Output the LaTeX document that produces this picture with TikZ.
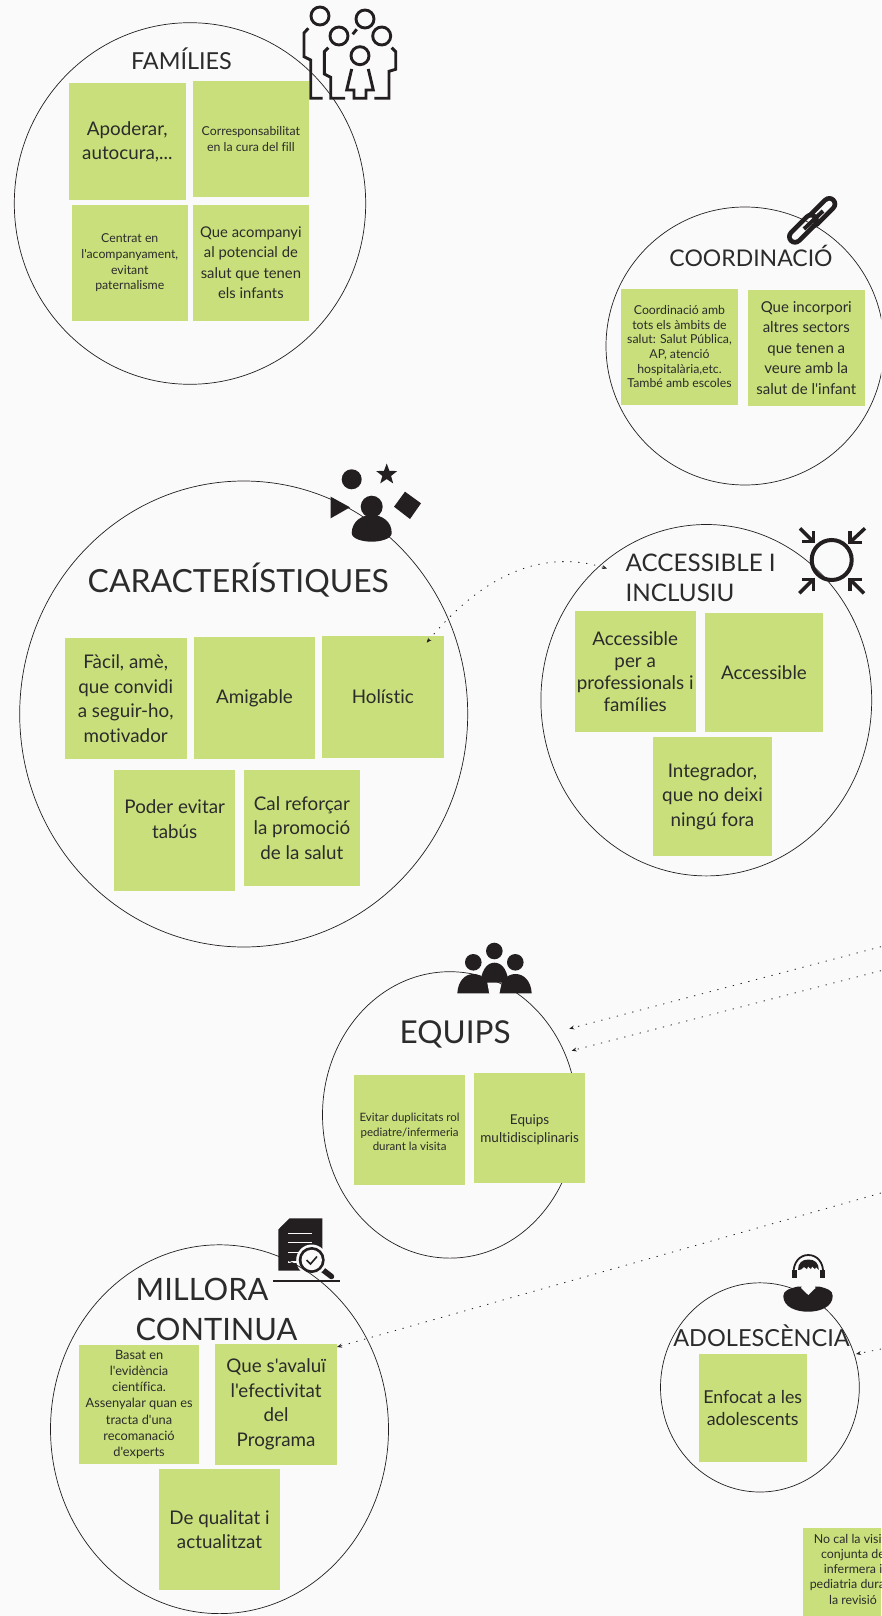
\documentclass[tikz,border=0pt]{standalone}
\usepackage{fontspec}
\setmainfont{Lato}[Ligatures={TeXOff,NoCommon}]
\usetikzlibrary{arrows.meta,shapes.geometric}
\definecolor{bgc}{HTML}{FAFAFA}
\definecolor{notec}{HTML}{C9DF7B}
\definecolor{ink}{HTML}{231F20}
\definecolor{txt}{HTML}{2B2B2B}
\newcommand{\fs}[2]{\fontsize{#1}{#2}\selectfont}
\tikzset{
  x=1pt,y=-1pt,
  note/.style={fill=notec,draw=none,inner sep=0pt,align=center,text=txt,minimum width=116.4pt,minimum height=116.4pt},
  notetext/.style={inner sep=0pt,align=center,text=txt},
  big/.style={font=\fs{18.8}{24.6}},
  mid/.style={font=\fs{15}{20.6}},
  small/.style={font=\fs{12.3}{15.6}},
  head/.style={inner sep=0pt,text=txt,align=left,font=\fs{23.4}{30}},
  ring/.style={draw=ink,line width=0.7pt},
  link/.style={draw=ink,line width=0.8pt,dash pattern=on 1.3pt off 6.7pt,-{Stealth[length=5pt,width=4pt]}},
  stroke/.style={draw=ink,line width=2.9pt,line cap=butt,line join=miter},
  solid/.style={fill=ink,draw=none},
}
\begin{document}
\begin{tikzpicture}
\fill[bgc] (0,0) rectangle (881,1616);
\useasboundingbox (0,0) rectangle (881,1616);
\clip (0,0) rectangle (881,1616);

% ---------- icons ----------
% family
\foreach \p/\q in {320/16,365/19,339/36,381.7/36,360/55.7}{\draw[stroke] (\p,\q) circle[radius=9];}
\draw[stroke] (308.3,28.3) -- (304,33) -- (304,56.7) -- (310.7,60) -- (310.7,98.3) -- (322.7,98.3);
\draw[stroke] (328.3,47.7) -- (324.3,51.7) -- (324.3,74) -- (330.7,77.3) -- (330.7,98.3) -- (345,98.3);
\draw[stroke] (391.7,47.7) -- (395.7,51.7) -- (395.7,69.3) -- (389,71.3) -- (389,98.3) -- (374.3,98.3);
\draw[stroke] (352.7,34.3) -- (356.7,29.3);
\draw[stroke] (351.7,69) -- (346.7,90) -- (354,90) -- (354,98.3) -- (366,98.3) -- (366,90) -- (373.3,90) -- (368.3,69);
% shapes + person
\fill[solid] (351.7,479.3) circle[radius=10];
\node[star,star points=5,star point ratio=2.4,fill=ink,inner sep=0pt,minimum size=22pt] (starshape) at (386.7,474.5) {};
\fill[solid] (330.7,496.7) -- (350,507.3) -- (330.7,518.3) -- cycle;
\fill[solid] (405,491.7) -- (421,503.3) -- (410,519) -- (394,506.7) -- cycle;
% link
\draw[draw=ink,line width=16pt,line cap=round] (829.3,204) -- (813.3,220);
\draw[draw=bgc,line width=6.5pt,line cap=round] (829.3,204) -- (813.3,220);
\draw[draw=ink,line width=16pt,line cap=round] (795,236.7) -- (811,220.7);
\draw[draw=bgc,line width=6.5pt,line cap=round] (795,236.7) -- (811,220.7);
\draw[draw=ink,line width=4pt] (804,229) -- (823,211);
% convergence
\draw[draw=ink,line width=4pt] (831.7,560) circle[radius=20];
\begin{scope}[draw=ink,line width=3.5pt]
\draw (800,528.3) -- (813.3,541.7); \draw (813.3,531) -- (813.3,541.7) -- (802,541.7);
\draw (865,528.3) -- (850,542.3);   \draw (850,531) -- (850,542.3) -- (862,542.3);
\draw (799.3,593.3) -- (813.3,579.3); \draw (813.3,591) -- (813.3,579.3) -- (802,579.3);
\draw (864,593.3) -- (850,579.3);   \draw (850,591) -- (850,579.3) -- (862,579.3);
\end{scope}
% team
\fill[solid] (494.3,951) circle[radius=8.3];
\fill[solid] (473.3,962.3) circle[radius=8.3];
\fill[solid] (515.3,962.3) circle[radius=8.3];
\fill[solid] (480,990) .. controls (480,970) and (487,962.7) .. (494.5,962.7) .. controls (502,962.7) and (509,970) .. (509,990) -- cycle;
\fill[solid] (457.3,993.3) .. controls (458,981) and (465,974) .. (473.3,974) .. controls (481.5,974) and (489,981) .. (489.5,993.3) -- cycle;
\fill[solid] (499.3,993.3) .. controls (500,981) and (507,974) .. (515.5,974) .. controls (524,974) and (531,981) .. (531.7,993.3) -- cycle;
\fill[bgc] (487.3,982.7) -- (501.7,982.7) -- (499.3,993.5) -- (489.3,993.5) -- cycle;
% document
\fill[solid] (289.5,1218.3) -- (322.3,1218.3) -- (322.3,1270.7) -- (278.3,1270.7) -- (278.3,1229.5) -- cycle;
\fill[solid] (289.7,1219) -- (289.7,1228) -- (280,1228) -- cycle;
\begin{scope}[draw=bgc,line width=1.5pt]
\draw (288.3,1233.3) -- (311.7,1233.3);
\draw (288.3,1242.7) -- (311.7,1242.7);
\draw (288.3,1252.3) -- (300,1252.3);
\draw (288.3,1262) -- (297,1262);
\end{scope}
\draw[draw=ink,line width=5.5pt,line cap=round] (323,1270) -- (331.5,1276.5);
\fill[bgc] (311.7,1260) circle[radius=15.5];
\fill[solid] (311.7,1260) circle[radius=13];
\fill[bgc] (311.7,1260) circle[radius=10.2];
\draw[draw=ink,line width=1.6pt] (306.5,1260) -- (310.5,1264) -- (317,1256.5);
\draw[draw=ink,line width=1.5pt] (273.3,1281) -- (340,1281);
% headset person
\draw[draw=ink,line width=1.8pt] (793.5,1274) .. controls (793,1262) and (800,1255) .. (808.3,1255) .. controls (816.6,1255) and (824,1262) .. (823,1274);
\fill[solid] (792,1270) rectangle (796.5,1278);
\fill[solid] (820,1270) rectangle (824.5,1278);
\fill[solid] (783.3,1296) .. controls (783.5,1290) and (790,1288.5) .. (798,1286.5) -- (819,1286.5) .. controls (827,1288.5) and (832.7,1290) .. (832.7,1296) .. controls (832.7,1307) and (820,1311.7) .. (808,1311.7) .. controls (796,1311.7) and (783.3,1307) .. (783.3,1296) -- cycle;
\fill[bgc] (798.3,1268) .. controls (798.3,1279) and (801,1283) .. (802.5,1285) -- (801,1288) -- (808.3,1295) -- (815.5,1288) -- (814,1285) .. controls (815.5,1283) and (818.3,1279) .. (818.3,1268) -- cycle;
\fill[solid] (798,1270) .. controls (798,1263) and (802,1259.5) .. (808.3,1259.5) .. controls (815,1259.5) and (818.8,1263) .. (818.8,1270) -- (816,1267) -- (815,1269) -- (812,1266.5) -- (811,1269) -- (808,1266.5) -- (807,1269) -- (804,1267) -- (801,1269.5) -- cycle;

% ---------- circles ----------
\node[ring,ellipse,inner sep=0pt,minimum width=351.4pt,minimum height=361.6pt] (cfam) at (190,203.5) {};
\node[ring,ellipse,inner sep=0pt,minimum width=278pt,minimum height=278pt] (ccoo) at (745,346) {};
\node[ring,ellipse,inner sep=0pt,minimum width=448pt,minimum height=466pt] (ccar) at (243.7,714) {};
\node[ring,ellipse,inner sep=0pt,minimum width=330.8pt,minimum height=351.4pt] (cacc) at (706.3,700.2) {};
\node[ring,ellipse,inner sep=0pt,minimum width=254.6pt,minimum height=286.4pt] (cequ) at (449.8,1114.9) {};
\node[ring,ellipse,inner sep=0pt,minimum width=338pt,minimum height=368.8pt] (cmil) at (219.5,1429.2) {};
\node[ring,ellipse,inner sep=0pt,minimum width=198.8pt,minimum height=209.2pt] (cado) at (759.9,1387.4) {};

% person over the ring of the shapes icon
\fill[solid] (371.7,506.7) circle[radius=11];
\fill[solid] (351.7,533) .. controls (352,521) and (362,515) .. (371.7,515) .. controls (381.5,515) and (391.7,521) .. (391.7,533) .. controls (391.7,539) and (380,541.7) .. (371.7,541.7) .. controls (363,541.7) and (351.7,539) .. (351.7,533) -- cycle;

% ---------- headings ----------
\node[head,anchor=center] (hfam) at (181.4,58.5) {FAMÍLIES};
\node[head,anchor=center,font=\fs{23}{30}] (hcoo) at (751,255.5) {COORDINACIÓ};
\node[head,anchor=west,font=\fs{31.9}{36}] (hcar) at (87.5,580) {CARACTERÍSTIQUES};
\node[head,anchor=north west,font=\fs{24.2}{30}] (hacc) at (625.5,554) {ACCESSIBLE I\\INCLUSIU};
\node[head,anchor=west,font=\fs{31.5}{36}] (hequ) at (399.5,1034.5) {EQUIPS};
\node[head,anchor=north west,font=\fs{30.8}{40}] (hmil) at (135.5,1277.5) {MILLORA\\CONTINUA};
\node[head,anchor=center,font=\fs{23.5}{30}] (hado) at (761.5,1336) {ADOLESCÈNCIA};

% ---------- notes ----------
\node[note,big] (fa) at (127.3,141.7) {Apoderar,\\autocura,...};
\node[note,small] (fb) at (250.9,139.1) {Corresponsabilitat\\en la cura del fill};
\node[note,small,minimum width=115.4pt,minimum height=115.4pt] (fc) at (129.8,262.8) {Centrat en\\l'acompanyament,\\evitant\\paternalisme};
\node[note,font=\fs{14.8}{20.4},minimum height=115.4pt] (fd) at (250.9,262.8) {Que acompanyi\\al potencial de\\salut que tenen\\els infants};
\node[note,font=\fs{12.3}{14.7}] (ca) at (679.5,346.7) {Coordinació amb\\tots els àmbits de\\salut: Salut Pública,\\AP, atenció\\hospitalària,etc.\\També amb escoles};
\node[note,mid] (cb) at (806.3,347.8) {Que incorpori\\altres sectors\\que tenen a\\veure amb la\\salut de l'infant};
\node[note,big,minimum width=121.6pt,minimum height=121.6pt] (a1) at (125.7,698.6) {Fàcil, amè,\\que convidi\\a seguir-ho,\\motivador};
\node[note,big,minimum width=121.6pt,minimum height=121.6pt] (a2) at (254.5,698) {Amigable};
\node[note,big,minimum width=122.6pt,minimum height=121.6pt] (a3) at (382.8,697.1) {Holístic};
\node[note,minimum width=120.6pt,minimum height=121.6pt] (a4) at (174.7,830.5) {};
\node[notetext,big] (a4t) at (174.7,819) {Poder evitar\\tabús};
\node[note,big] (a5) at (301.9,827.9) {Cal reforçar\\la promoció\\de la salut};
\node[note,font=\fs{18.8}{22},minimum width=120.6pt,minimum height=120.6pt] (b1) at (635.2,671.3) {Accessible\\per a\\professionals i\\famílies};
\node[note,big,minimum width=118.5pt,minimum height=118.5pt] (b2) at (764,672.3) {Accessible};
\node[note,big,minimum width=118.5pt,minimum height=119.5pt] (b3) at (712.5,796.5) {Integrador,\\que no deixi\\ningú fora};
\node[note,minimum width=110.3pt,minimum height=110.3pt] (e1) at (409.6,1129.8) {};
\node[notetext,font=\fs{11.5}{14.5}] (e1t) at (409.6,1131.8) {Evitar duplicitats rol\\pediatre/infermeria\\durant la visita};
\node[note,minimum width=111.3pt,minimum height=110.3pt] (e2) at (529.6,1127.8) {};
\node[notetext,font=\fs{13.5}{17.5}] (e2t) at (529.6,1129.8) {Equips\\multidisciplinaris};
\node[note,font=\fs{12.8}{16.2},minimum width=119.5pt,minimum height=119.5pt] (m1) at (139.1,1404.4) {Basat en\\l'evidència\\científica.\\Assenyalar quan es\\tracta d'una\\recomanació\\d'experts};
\node[note,big,minimum width=121.6pt,minimum height=121.6pt] (m2) at (276.1,1404.4) {Que s'avaluï\\l'efectivitat\\del\\Programa};
\node[note,big,minimum width=121.6pt,minimum height=120.6pt] (m3) at (219.5,1529.6) {De qualitat i\\actualitzat};
\node[note,font=\fs{17.8}{22.7},minimum width=108.2pt,minimum height=108.2pt] (ad) at (752.7,1408) {Enfocat a les\\adolescents};
\node[note,minimum width=100pt,minimum height=120pt] (nc) at (853,1588) {};
\node[notetext,anchor=north,font=\fs{12.4}{15.2}] (nct) at (853,1534) {No cal la visita\\conjunta de\\infermera i\\pediatria durant\\la revisió};

% ---------- connectors ----------
\coordinate (e1end) at (881,946.7);
\coordinate (e2end) at (881,970.7);
\coordinate (m1end) at (881,1193);
\coordinate (adend) at (881,1349);
\coordinate (t1) at (569.3,1028.7);
\coordinate (t2) at (571.7,1050.7);
\coordinate (t3) at (337,1347);
\coordinate (t4) at (856,1354);
\coordinate (acctip) at (607,568.5);
\coordinate (holtip) at (426.7,642.7);
\draw[link] (e1end) -- (t1);
\draw[link] (e2end) -- (t2);
\draw[link] (m1end) -- (t3);
\draw[link] (adend) -- (t4);
\draw[link,{Stealth[length=5pt,width=4pt]}-{Stealth[length=5pt,width=4pt]}] (holtip) .. controls (470,590) and (530,545) .. (acctip);
\end{tikzpicture}
\end{document}
